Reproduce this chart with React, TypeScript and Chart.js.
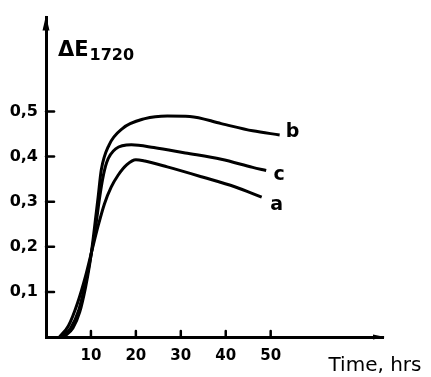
import React, { useEffect, useRef } from "react";
import { Chart, registerables } from "chart.js";

Chart.register(...registerables);

// Time (hrs) and ΔE1720 values for each curve
const timeA = [3, 5, 7, 8.8, 10.3, 11.7, 13, 14.5, 16, 18, 20, 22, 27, 35, 42, 48];
const valuesA = [0, 0.025, 0.075, 0.135, 0.195, 0.25, 0.295, 0.332, 0.358, 0.382, 0.393, 0.39, 0.377, 0.354, 0.333, 0.31];

const timeB = [4, 6, 7.5, 8.8, 9.7, 10.4, 11, 11.6, 12.3, 14, 17, 22, 27, 32, 39, 46, 52];
const valuesB = [0, 0.02, 0.055, 0.11, 0.16, 0.21, 0.26, 0.31, 0.37, 0.425, 0.462, 0.484, 0.49, 0.489, 0.473, 0.457, 0.448];

const timeC = [3.5, 5.5, 7.3, 8.8, 10, 11, 11.8, 12.6, 13.5, 15.5, 19, 24, 31, 39, 46, 49];
const valuesC = [0, 0.02, 0.06, 0.12, 0.18, 0.24, 0.3, 0.35, 0.387, 0.417, 0.426, 0.42, 0.408, 0.394, 0.376, 0.369];

const seriesNames = ["a", "b", "c"];
const xTicks = [10, 20, 30, 40, 50];
const yTicks = [0.1, 0.2, 0.3, 0.4, 0.5];
const xMax = 75;
const yMax = 0.708;
const yTitle = "ΔE";
const yTitleSub = "1720";
const xTitle = "Time, hrs";

const FONT = "'DejaVu Sans', sans-serif";

const toPoints = (xs: number[], ys: number[]) => xs.map((x, i) => ({ x, y: ys[i] }));

const decorPlugin = {
  id: "decor",
  afterDraw(chart: any) {
    const ctx = chart.ctx;
    const xs = chart.scales.x;
    const ys = chart.scales.y;
    const left = chart.chartArea.left;
    const right = chart.chartArea.right;
    const top = chart.chartArea.top;
    const bottom = chart.chartArea.bottom;
    ctx.save();
    ctx.strokeStyle = "#000";
    ctx.fillStyle = "#000";
    ctx.lineWidth = 2.5;
    ctx.lineCap = "round";
    // inward tick marks
    xs.ticks.forEach((t: any) => {
      const px = xs.getPixelForValue(t.value);
      ctx.beginPath();
      ctx.moveTo(px, bottom);
      ctx.lineTo(px, bottom - 6);
      ctx.stroke();
    });
    ys.ticks.forEach((t: any) => {
      const py = ys.getPixelForValue(t.value);
      ctx.beginPath();
      ctx.moveTo(left, py);
      ctx.lineTo(left + 8, py);
      ctx.stroke();
    });
    // arrowheads
    ctx.beginPath();
    ctx.moveTo(left, top - 2);
    ctx.lineTo(left - 3.5, top + 13);
    ctx.lineTo(left + 3.5, top + 13);
    ctx.closePath();
    ctx.fill();
    ctx.beginPath();
    ctx.moveTo(right + 2, bottom);
    ctx.lineTo(right - 10, bottom - 2.5);
    ctx.lineTo(right - 10, bottom + 2.5);
    ctx.closePath();
    ctx.fill();
    // axis titles
    ctx.textBaseline = "alphabetic";
    ctx.textAlign = "left";
    ctx.font = `bold 21px ${FONT}`;
    ctx.fillText(yTitle, left + 12, top + 38);
    const w = ctx.measureText(yTitle).width;
    ctx.font = `bold 16px ${FONT}`;
    ctx.fillText(yTitleSub, left + 12 + w + 1, top + 42);
    ctx.font = `20px ${FONT}`;
    ctx.textAlign = "center";
    ctx.fillText(xTitle, right - 8, bottom + 34);
    // curve labels
    const offsets: Record<string, [number, number]> = { a: [15, 8], b: [13, -3], c: [13, 5] };
    ctx.font = `bold 19px ${FONT}`;
    ctx.textBaseline = "middle";
    chart.data.datasets.forEach((ds: any, i: number) => {
      const meta = chart.getDatasetMeta(i);
      const last = meta.data[meta.data.length - 1];
      const off = offsets[ds.label];
      ctx.fillText(ds.label, last.x + off[0], last.y + off[1]);
    });
    ctx.restore();
  },
};

export default function App() {
  const ref = useRef<HTMLCanvasElement>(null);
  useEffect(() => {
    if (!ref.current) return;
    const lineStyle = {
      borderColor: "#000",
      borderWidth: 3,
      pointRadius: 0,
      fill: false,
      cubicInterpolationMode: "monotone" as const,
    };
    const chart = new Chart(ref.current, {
      type: "line",
      data: {
        datasets: [
          { label: seriesNames[0], data: toPoints(timeA, valuesA), ...lineStyle },
          { label: seriesNames[1], data: toPoints(timeB, valuesB), ...lineStyle },
          { label: seriesNames[2], data: toPoints(timeC, valuesC), ...lineStyle },
        ],
      },
      options: {
        animation: false,
        responsive: true,
        maintainAspectRatio: false,
        layout: { padding: { top: 10, right: 48, left: 0, bottom: 0 } },
        plugins: { legend: { display: false }, tooltip: { enabled: false } },
        scales: {
          x: {
            type: "linear",
            min: 0,
            max: xMax,
            grid: { display: false, drawTicks: false },
            border: { display: true, color: "#000", width: 3 },
            afterBuildTicks: (s: any) => {
              s.ticks = xTicks.map((v) => ({ value: v }));
            },
            afterFit: (s: any) => {
              s.height = 40;
            },
            ticks: {
              color: "#000",
              padding: 10,
              font: { family: FONT, size: 15, weight: "bold" },
              callback: (v: any) => String(v),
            },
          },
          y: {
            type: "linear",
            min: 0,
            max: yMax,
            grid: { display: false, drawTicks: false },
            border: { display: true, color: "#000", width: 3 },
            afterBuildTicks: (s: any) => {
              s.ticks = yTicks.map((v) => ({ value: v }));
            },
            afterFit: (s: any) => {
              s.width = 46;
            },
            ticks: {
              color: "#000",
              padding: 8,
              font: { family: FONT, size: 16, weight: "bold" },
              callback: (v: any) => Number(v).toFixed(1).replace(".", ","),
            },
          },
        },
      },
      plugins: [decorPlugin],
    });
    return () => chart.destroy();
  }, []);
  return (
    <div style={{ position: "fixed", left: 0, top: 0, width: 431, height: 377, background: "#fff" }}>
      <canvas ref={ref} />
    </div>
  );
}
